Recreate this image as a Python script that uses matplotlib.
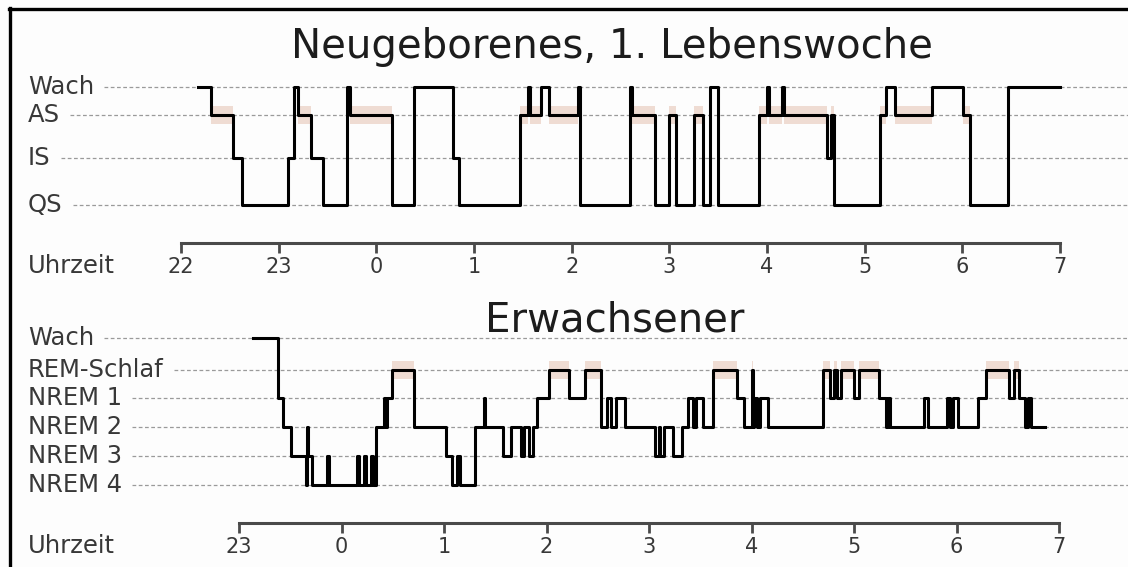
import matplotlib
matplotlib.use("Agg")
import matplotlib.pyplot as plt
from matplotlib.lines import Line2D
from matplotlib.patches import Rectangle

W, H = 1128, 567

# Neugeborenes: Zeitpunkt des Wechsels (Stunden, nach Mitternacht +24) und Stadium ab da
nb_levels = ["Wach", "AS", "IS", "QS"]
nb_times = [22.17, 22.31, 22.53, 22.62, 23.10, 23.16, 23.20, 23.33, 23.45, 23.70,
            23.73, 24.165, 24.39, 24.78, 24.85, 25.47, 25.55, 25.57, 25.685, 25.77,
            26.06, 26.085, 26.60, 26.62, 26.85, 27.00, 27.07, 27.25, 27.34, 27.42,
            27.50, 27.92, 28.00, 28.02, 28.15, 28.17, 28.61, 28.66, 28.69, 29.16,
            29.22, 29.31, 29.69, 30.01, 30.08, 30.47]
nb_stages = [0, 1, 2, 3, 2, 0, 1, 2, 3, 0,
             1, 3, 0, 2, 3, 1, 0, 1, 0, 1,
             0, 3, 0, 1, 3, 1, 3, 1, 3, 0,
             3, 1, 0, 1, 0, 1, 2, 1, 3, 1,
             0, 1, 0, 1, 3, 0]
nb_end = 31.0
nb_ticks = [22, 23, 24, 25, 26, 27, 28, 29, 30, 31]
nb_ticklabels = ["22", "23", "0", "1", "2", "3", "4", "5", "6", "7"]

# Erwachsener
ad_levels = ["Wach", "REM-Schlaf", "NREM 1", "NREM 2", "NREM 3", "NREM 4"]
ad_times = [23.14, 23.38, 23.43, 23.51, 23.65, 23.66, 23.67, 23.71, 23.86, 23.88,
            24.15, 24.17, 24.22, 24.24, 24.29, 24.31, 24.34, 24.41, 24.43, 24.44,
            24.49, 24.71, 25.02, 25.08, 25.13, 25.16, 25.30, 25.39, 25.40, 25.575,
            25.65, 25.75, 25.78, 25.83, 25.87, 25.91, 26.02, 26.22, 26.375, 26.53,
            26.59, 26.63, 26.68, 26.77, 27.06, 27.10, 27.11, 27.15, 27.23, 27.32,
            27.38, 27.43, 27.46, 27.53, 27.62, 27.86, 27.93, 28.00, 28.01, 28.02,
            28.05, 28.08, 28.16, 28.70, 28.77, 28.80, 28.83, 28.875, 29.00, 29.05,
            29.24, 29.31, 29.33, 29.35, 29.685, 29.72, 29.91, 29.94, 29.97, 30.01,
            30.21, 30.29, 30.51, 30.56, 30.61, 30.67, 30.70, 30.73]
ad_stages = [0, 2, 3, 4, 5, 3, 4, 5, 4, 5,
             4, 5, 4, 5, 4, 5, 3, 2, 3, 2,
             1, 3, 4, 5, 4, 5, 3, 2, 3, 4,
             3, 4, 3, 4, 3, 2, 1, 2, 1, 3,
             2, 3, 2, 3, 4, 3, 4, 3, 4, 3,
             2, 3, 2, 3, 1, 2, 3, 1, 3, 2,
             3, 2, 3, 1, 2, 1, 2, 1, 2, 1,
             2, 3, 2, 3, 2, 3, 2, 3, 2, 3,
             2, 1, 2, 1, 2, 3, 2, 3]
ad_end = 30.86
ad_ticks = [23, 24, 25, 26, 27, 28, 29, 30, 31]
ad_ticklabels = ["23", "0", "1", "2", "3", "4", "5", "6", "7"]

LABEL_C = "#383838"
SHADE_C = "#efdcd3"


def fx(x):
    return x / W


def fy(y):
    return 1 - y / H


def make_panel(fig, top_px, axis_px, level_px, t0, x0, t1, x1, ticks, ticklabels):
    # axes over the full width, y in pixels above the time axis
    ax = fig.add_axes([0, fy(axis_px), 1, (axis_px - top_px) / H])
    pph = (x1 - x0) / (t1 - t0)
    ax.set_xlim(t0 - x0 / pph, t0 + (W - x0) / pph)
    ax.set_ylim(0, axis_px - top_px)
    ax.patch.set_alpha(0)
    for s in ["top", "left", "right"]:
        ax.spines[s].set_visible(False)
    ax.spines["bottom"].set_bounds(t0, t1)
    ax.spines["bottom"].set_color("#4a4a4a")
    ax.spines["bottom"].set_linewidth(2.2)
    ax.set_yticks([])
    ax.set_xticks(ticks)
    ax.set_xticklabels(ticklabels, fontsize=15, color=LABEL_C)
    ax.tick_params(axis="x", direction="out", length=7, width=2, color="#4a4a4a", pad=3)
    return ax, [axis_px - p for p in level_px]


def hypnogram(ax, times, stages, end, ys, shade_stage):
    bounds = times + [end]
    for a, b, s in zip(bounds[:-1], bounds[1:], stages):
        if s == shade_stage:
            ax.add_patch(Rectangle((a, ys[s] - 9), b - a, 18, facecolor=SHADE_C,
                                   edgecolor="none", zorder=1))
    yv = [ys[s] for s in stages] + [ys[stages[-1]]]
    ax.plot(bounds, yv, drawstyle="steps-post", color="black", lw=2.2, zorder=3)


def level_labels(fig, labels, level_px):
    texts = []
    for lab, y in zip(labels, level_px):
        texts.append(fig.text(fx(28), fy(y), lab, fontsize=17.5, color=LABEL_C,
                              ha="left", va="center"))
    return texts


fig = plt.figure(figsize=(W / 100, H / 100), dpi=100)
fig.patch.set_facecolor("#fdfdfd")

# top panel
nb_level_px = [87, 115, 158, 205]
ax1, nb_ys = make_panel(fig, 60, 243, nb_level_px, 22, 181, 31, 1060, nb_ticks, nb_ticklabels)
hypnogram(ax1, nb_times, nb_stages, nb_end, nb_ys, 1)
fig.text(fx(612), fy(47), "Neugeborenes, 1. Lebenswoche", fontsize=29, color="#1c1c1c",
         ha="center", va="center")
fig.text(fx(28), fy(266), "Uhrzeit", fontsize=17.5, color=LABEL_C, ha="left", va="center")
nb_texts = level_labels(fig, nb_levels, nb_level_px)

# bottom panel
ad_level_px = [338, 370, 398, 427, 456, 485]
ax2, ad_ys = make_panel(fig, 320, 523, ad_level_px, 23, 239, 31, 1059, ad_ticks, ad_ticklabels)
hypnogram(ax2, ad_times, ad_stages, ad_end, ad_ys, 1)
fig.text(fx(615), fy(321), "Erwachsener", fontsize=29, color="#1c1c1c",
         ha="center", va="center")
fig.text(fx(28), fy(546), "Uhrzeit", fontsize=17.5, color=LABEL_C, ha="left", va="center")
ad_texts = level_labels(fig, ad_levels, ad_level_px)

# dashed guide lines start right after each label
fig.canvas.draw()
rend = fig.canvas.get_renderer()
for texts, level_px in [(nb_texts, nb_level_px), (ad_texts, ad_level_px)]:
    for t, y in zip(texts, level_px):
        x_start = t.get_window_extent(rend).x1 + 10
        fig.add_artist(Line2D([x_start / W, 1], [fy(y), fy(y)], transform=fig.transFigure,
                              color="#9a9a9a", lw=0.9, ls=(0, (3, 2)), zorder=0))

# frame at top and left
fig.add_artist(Line2D([fx(9), 1], [fy(9), fy(9)], transform=fig.transFigure,
                      color="black", lw=2.4))
fig.add_artist(Line2D([fx(10), fx(10)], [fy(8), 0], transform=fig.transFigure,
                      color="black", lw=2.4))

fig.savefig("out.png", dpi=100, facecolor=fig.get_facecolor())
